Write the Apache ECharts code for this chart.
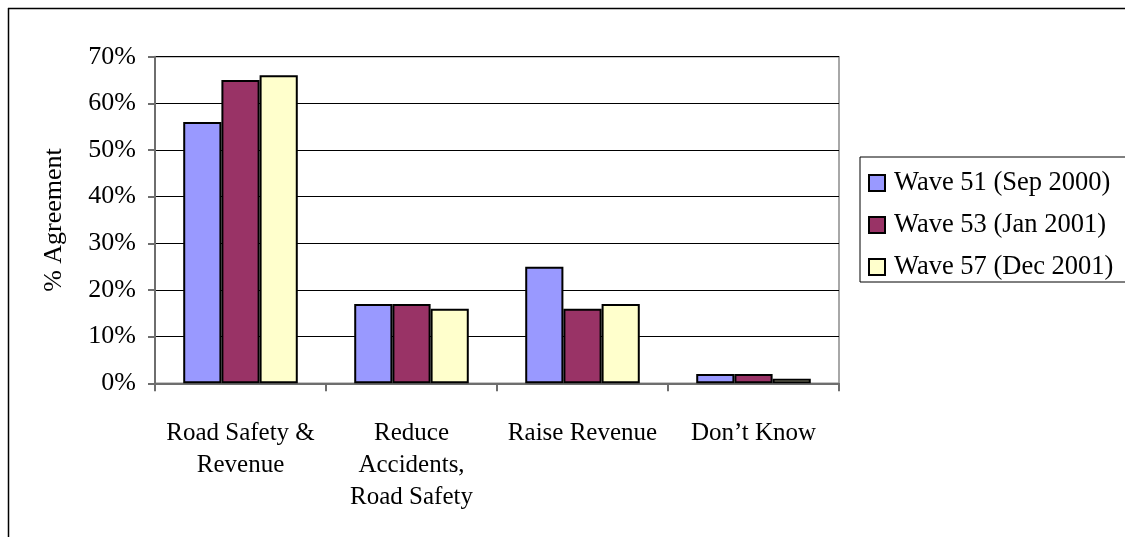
<!DOCTYPE html>
<html>
<head>
<meta charset="utf-8">
<script src="https://cdn.jsdelivr.net/npm/echarts@6/dist/echarts.min.js"></script>
<style>
  html, body { margin: 0; padding: 0; background: #fff; }
  #chart { width: 1125px; height: 537px; }
</style>
</head>
<body>
<div id="chart"></div>
<script>
// Categories on the x axis
const categories = [
  'Road Safety &\nRevenue',
  'Reduce\nAccidents,\nRoad Safety',
  'Raise Revenue',
  'Don\u2019t Know'
];

// Survey waves (legend names)
const seriesNames = [
  'Wave 51 (Sep 2000)',
  'Wave 53 (Jan 2001)',
  'Wave 57 (Dec 2001)'
];

// Percent agreement per wave
const wave51 = [56, 17, 25, 2];
const wave53 = [65, 17, 16, 2];
const wave57 = [66, 16, 17, 1];

const seriesColors = ['#9999FF', '#993366', '#FFFFCC'];
const seriesValues = [wave51, wave53, wave57];

const FONT = '"Liberation Serif", "Times New Roman", serif';

const chart = echarts.init(document.getElementById('chart'), null, { renderer: 'canvas' });

chart.setOption({
  animation: false,
  backgroundColor: '#ffffff',
  textStyle: { fontFamily: FONT, color: '#000' },
  grid: {
    left: 155,
    right: 286,
    top: 56.7,
    bottom: 153.7,
    show: true,
    borderColor: '#8c8c8c',
    borderWidth: 1.5,
    backgroundColor: 'transparent'
  },
  legend: {
    left: 860,
    top: 157,
    orient: 'vertical',
    data: seriesNames,
    icon: 'rect',
    itemWidth: 16,
    itemHeight: 16,
    itemGap: 12,
    padding: [11, 300, 0, 8],
    borderColor: '#000',
    borderWidth: 1,
    align: 'left',
    itemStyle: { borderColor: '#000', borderWidth: 2 },
    textStyle: {
      fontFamily: FONT,
      fontSize: 26.5,
      color: '#000',
      lineHeight: 30,
      padding: [0, 0, 0, 4]
    }
  },
  xAxis: {
    type: 'category',
    data: categories,
    axisLine: { show: true, lineStyle: { color: '#6e6e6e', width: 2 } },
    axisTick: {
      show: true,
      alignWithLabel: false,
      length: 8,
      lineStyle: { color: '#6e6e6e', width: 2 }
    },
    axisLabel: {
      fontFamily: FONT,
      fontSize: 25,
      color: '#000',
      lineHeight: 32,
      margin: 34,
      interval: 0,
      align: 'center'
    },
    splitLine: { show: false }
  },
  yAxis: {
    type: 'value',
    min: 0,
    max: 70,
    interval: 10,
    name: '% Agreement',
    nameLocation: 'middle',
    nameRotate: 90,
    nameGap: 88,
    nameTextStyle: { fontFamily: FONT, fontSize: 26, color: '#000' },
    axisLine: { show: true, lineStyle: { color: '#6e6e6e', width: 2 } },
    axisTick: { show: true, length: 7, lineStyle: { color: '#6e6e6e', width: 2 } },
    axisLabel: {
      fontFamily: FONT,
      fontSize: 26,
      color: '#000',
      margin: 19,
      formatter: v => v + '%'
    },
    splitLine: { show: true, lineStyle: { color: '#000', width: 1 } }
  },
  series: seriesNames.map((name, i) => ({
    name: name,
    type: 'bar',
    data: seriesValues[i],
    barGap: '0%',
    barCategoryGap: '33%',
    itemStyle: {
      color: seriesColors[i],
      borderColor: '#000',
      borderWidth: 2
    }
  })),
  graphic: [
    // outer frame lines (top and left edges)
    {
      type: 'line',
      shape: { x1: 8, y1: 8.5, x2: 1125, y2: 8.5 },
      style: { stroke: '#000', lineWidth: 1.5 },
      z: 10
    },
    {
      type: 'line',
      shape: { x1: 8.5, y1: 8, x2: 8.5, y2: 537 },
      style: { stroke: '#000', lineWidth: 1.5 },
      z: 10
    }
  ]
});
</script>
</body>
</html>
